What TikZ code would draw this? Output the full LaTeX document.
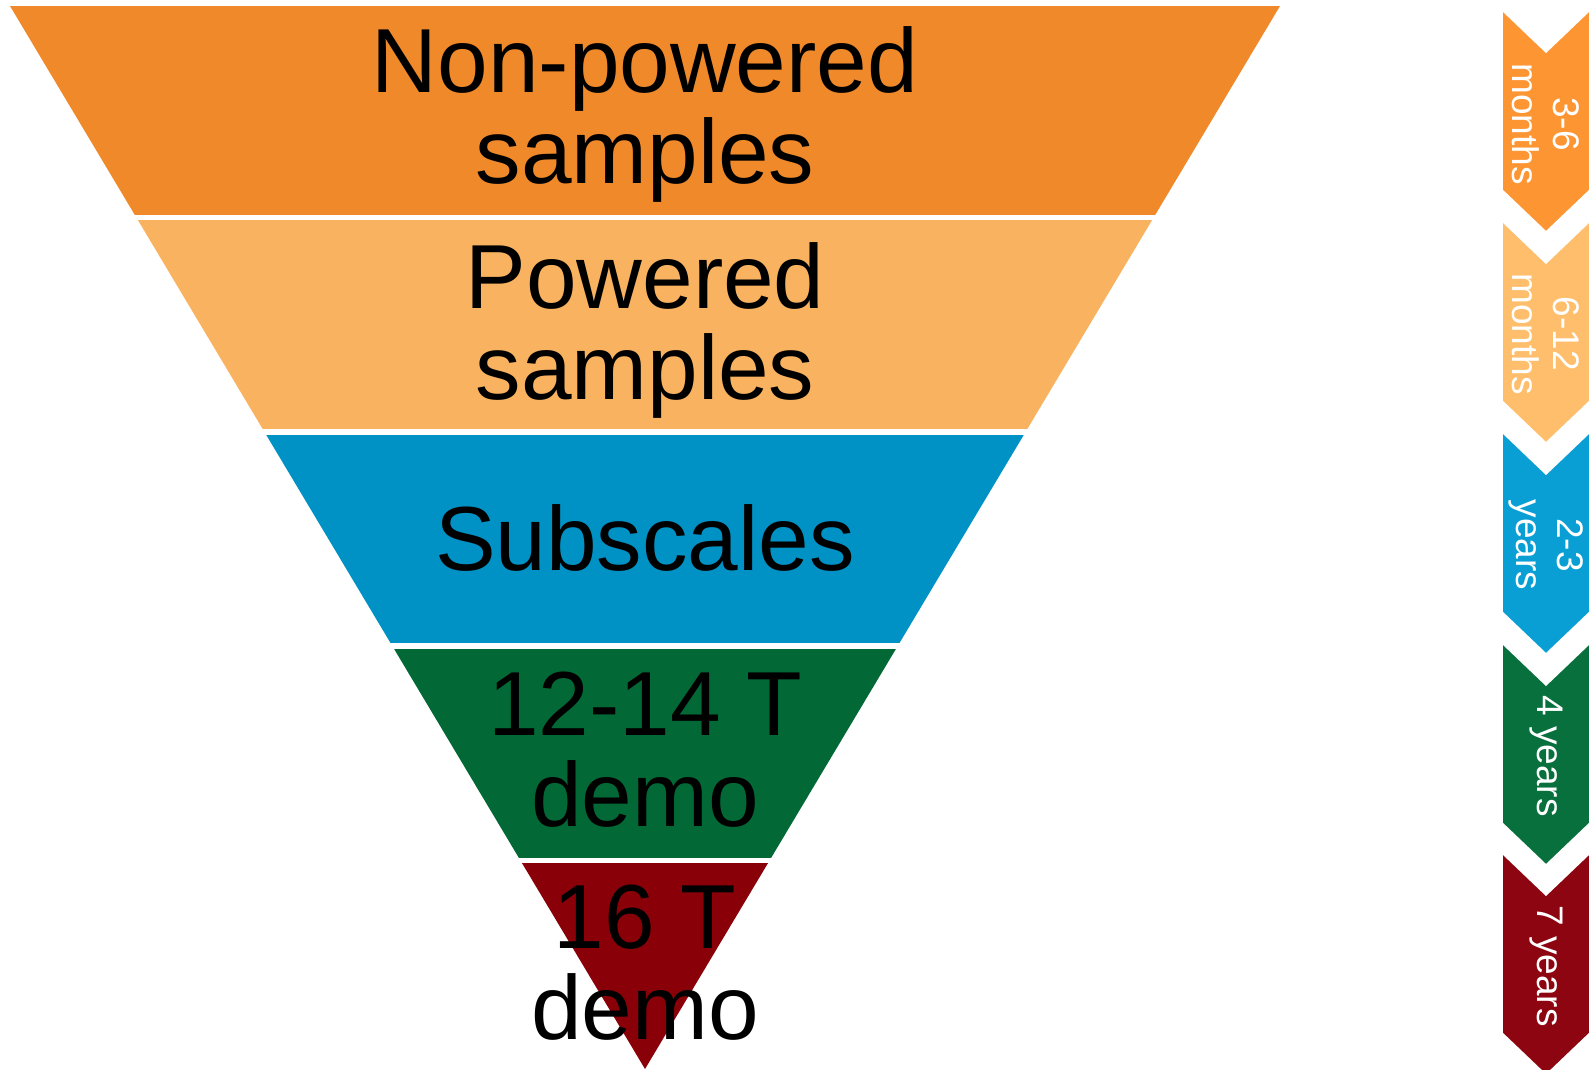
\documentclass[tikz,border=0pt]{standalone}
\usepackage{fontspec}
\setmainfont{Liberation Sans}
\usepackage{xcolor}
\usepackage{tikz}
\usetikzlibrary{positioning}
\definecolor{funnelorange}{RGB}{240, 137, 42}
\definecolor{funnellight}{RGB}{249, 179, 96}
\definecolor{funnelblue}{RGB}{0, 145, 197}
\definecolor{funnelgreen}{RGB}{2, 105, 54}
\definecolor{funnelred}{RGB}{137, 0, 8}
\definecolor{chevorange}{RGB}{254, 149, 51}
\definecolor{chevlight}{RGB}{254, 190, 108}
\definecolor{chevblue}{RGB}{10, 159, 212}
\definecolor{chevgreen}{RGB}{8, 112, 60}
\definecolor{chevred}{RGB}{140, 5, 16}
\tikzstyle{bandtext} = [
    align=center,
    inner sep=0pt,
    text=black,
    font=\fontsize{91}{91}\selectfont
]
\tikzstyle{chevron} = [
    draw=white,
    line width=1.5pt,
    line join=miter
]
\tikzstyle{chevtext} = [
    align=center,
    inner sep=0pt,
    rotate=-90,
    text=white,
    font=\fontsize{37}{41}\selectfont
]
\newcommand{\chevronat}[2]{%
    \fill[chevron, fill=#2] (1502,#1) -- (1546,#1+42) -- (1590,#1) -- (1590,#1+180)
        -- (1546,#1+222) -- (1502,#1+180) -- cycle;}

\begin{document}
\begin{tikzpicture}[x=1pt, y=-1pt]
        \useasboundingbox (0,0) rectangle (1589,1070);

        % Funnel bands
        \begin{scope}
            \clip (10,6) -- (1280,6) -- (645,1069) -- cycle;
            \fill[funnelorange] (0,6) rectangle (1300,215);
            \fill[funnellight] (0,220) rectangle (1300,429);
            \fill[funnelblue] (0,435) rectangle (1300,643);
            \fill[funnelgreen] (0,649) rectangle (1300,858);
            \fill[funnelred] (0,863) rectangle (1300,1070);
        \end{scope}

        % Funnel labels
        \node[bandtext] (nonpowered) at (645,114) {Non-powered\\samples};
        \node[bandtext] (powered) at (645,330) {Powered\\samples};
        \node[bandtext] (subscales) at (645,538) {Subscales};
        \node[bandtext] (demoA) at (645,750) {12-14 T\\demo};
        \node[bandtext] (demoB) at (645,963) {16 T\\demo};

        % Timeline chevrons
        \chevronat{10}{chevorange}
        \chevronat{221}{chevlight}
        \chevronat{432}{chevblue}
        \chevronat{643}{chevgreen}
        \chevronat{853}{chevred}

        % Timeline labels
        \node[chevtext] (timeA) at (1546,124) {3-6\\months};
        \node[chevtext] (timeB) at (1546,334) {6-12\\months};
        \node[chevtext] (timeC) at (1546,545) {2-3\\years};
        \node[chevtext] (timeD) at (1546,756) {4 years};
        \node[chevtext] (timeE) at (1546,966) {7 years};
    \end{tikzpicture}
\end{document}
